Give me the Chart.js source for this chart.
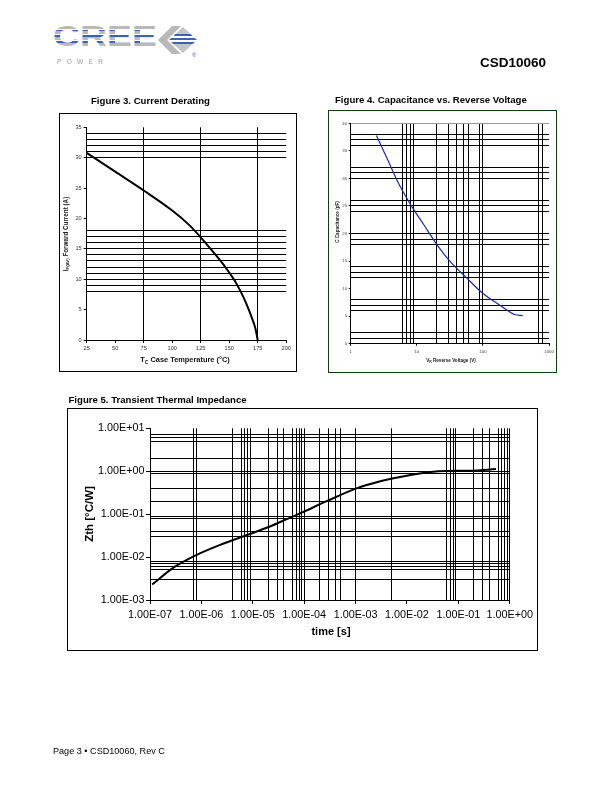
<!DOCTYPE html>
<html>
<head>
<meta charset="UTF-8">
<title>CSD10060</title>
<script src="https://cdn.jsdelivr.net/npm/chart.js@4.4.0/dist/chart.umd.min.js"></script>
<style>
  body { margin:0; width:612px; height:792px; position:relative; background:#fff; overflow:hidden; }
  canvas { position:absolute; }
  #page { position:absolute; left:0; top:0; pointer-events:none; font-family:"Liberation Sans", Arial, sans-serif; }
</style>
</head>
<body>

<canvas id="fig3" width="238" height="259" style="left:59px;top:113px"></canvas>
<canvas id="fig4" width="229" height="263" style="left:328px;top:110px"></canvas>
<canvas id="fig5" width="471" height="243" style="left:67px;top:408px"></canvas>

<svg id="page" width="612" height="792" xmlns="http://www.w3.org/2000/svg">
  <defs>
    <linearGradient id="creeStripe" gradientUnits="userSpaceOnUse" x1="0" y1="25" x2="0" y2="46">
      <stop offset="0" stop-color="#b8b8b8"/><stop offset="0.18" stop-color="#b8b8b8"/>
      <stop offset="0.18" stop-color="#fff"/><stop offset="0.23" stop-color="#fff"/>
      <stop offset="0.23" stop-color="#3d62b3"/><stop offset="0.3" stop-color="#3d62b3"/>
      <stop offset="0.3" stop-color="#b8b8b8"/><stop offset="0.45" stop-color="#b8b8b8"/>
      <stop offset="0.45" stop-color="#fff"/><stop offset="0.5" stop-color="#fff"/>
      <stop offset="0.5" stop-color="#3d62b3"/><stop offset="0.57" stop-color="#3d62b3"/>
      <stop offset="0.57" stop-color="#b8b8b8"/><stop offset="0.72" stop-color="#b8b8b8"/>
      <stop offset="0.72" stop-color="#fff"/><stop offset="0.77" stop-color="#fff"/>
      <stop offset="0.77" stop-color="#3d62b3"/><stop offset="0.84" stop-color="#3d62b3"/>
      <stop offset="0.84" stop-color="#b8b8b8"/><stop offset="1" stop-color="#b8b8b8"/>
    </linearGradient>
    <linearGradient id="diaStripe" gradientUnits="userSpaceOnUse" x1="0" y1="28" x2="0" y2="52">
      <stop offset="0" stop-color="#c4c4c4"/><stop offset="0.25" stop-color="#c4c4c4"/>
      <stop offset="0.25" stop-color="#3d62b3"/><stop offset="0.33" stop-color="#3d62b3"/>
      <stop offset="0.33" stop-color="#fff"/><stop offset="0.4" stop-color="#fff"/>
      <stop offset="0.4" stop-color="#3d62b3"/><stop offset="0.5" stop-color="#3d62b3"/>
      <stop offset="0.5" stop-color="#fff"/><stop offset="0.57" stop-color="#fff"/>
      <stop offset="0.57" stop-color="#3d62b3"/><stop offset="0.67" stop-color="#3d62b3"/>
      <stop offset="0.67" stop-color="#c4c4c4"/><stop offset="1" stop-color="#c4c4c4"/>
    </linearGradient>
  </defs>

  <!-- logo -->
  <text x="53" y="46" font-size="29" font-weight="bold" textLength="104" lengthAdjust="spacingAndGlyphs" fill="url(#creeStripe)">CREE</text>
  <text x="57" y="64" font-size="6.5" fill="#9a9a9a" textLength="46" lengthAdjust="spacing">POWER</text>
  <polygon points="158,40 172,26 181,26 167,40 181,54 172,54" fill="#b8b8b8"/>
  <polygon points="169,40 183,27 197,40 183,53" fill="url(#diaStripe)"/>
  <text x="192" y="57" font-size="6" fill="#3d62b3">®</text>

  <text x="480" y="67" font-size="13.5" font-weight="bold">CSD10060</text>

  <!-- figure titles -->
  <text x="91" y="103.5" font-size="9.6" font-weight="bold">Figure 3. Current Derating</text>
  <text x="335" y="103" font-size="9.6" font-weight="bold">Figure 4. Capacitance vs. Reverse Voltage</text>
  <text x="68.5" y="403" font-size="9.6" font-weight="bold">Figure 5. Transient Thermal Impedance</text>

  <!-- frames -->
  <rect x="59.5" y="113.5" width="237" height="258" fill="none" stroke="#000" stroke-width="1"/>
  <rect x="328.5" y="110.5" width="228" height="262" fill="none" stroke="#0e3d0e" stroke-width="1"/>
  <rect x="67.5" y="408.5" width="470" height="242" fill="none" stroke="#000" stroke-width="1"/>

  <!-- axis titles fig 3 -->
  <text x="185" y="362" font-size="7.4" font-weight="bold" text-anchor="middle" fill="#111">T<tspan font-size="5" dy="1.5">C</tspan><tspan dy="-1.5"> Case Temperature (°C)</tspan></text>
  <text transform="translate(68,234) rotate(-90)" font-size="6.3" font-weight="bold" text-anchor="middle" fill="#222">I<tspan font-size="4.3" dy="1.3">F(AV)</tspan><tspan dy="-1.3"> Forward Current (A)</tspan></text>

  <!-- axis titles fig 4 -->
  <text x="451" y="361.5" font-size="4.6" font-weight="bold" text-anchor="middle" fill="#222">V<tspan font-size="3.4" dy="1">R</tspan><tspan dy="-1"> Reverse Voltage (V)</tspan></text>
  <text transform="translate(338.5,222) rotate(-90)" font-size="4.6" font-weight="bold" text-anchor="middle" fill="#222">C Capacitance (pF)</text>

  <!-- axis titles fig 5 -->
  <text x="331" y="634.5" font-size="11" font-weight="bold" text-anchor="middle">time [s]</text>
  <text transform="translate(92.5,514) rotate(-90)" font-size="11.5" font-weight="bold" text-anchor="middle">Zth [°C/W]</text>

  <text x="53" y="754" font-size="9.1">Page 3 • CSD10060, Rev C</text>
</svg>

<script>
// ---- Figure 3. Current Derating ----
var tempC    = [25, 50, 75, 100, 115, 125, 135, 145, 150, 155, 160, 165, 170, 173, 175];
var currentA = [30.8, 27.7, 24.6, 21.3, 18.9, 16.9, 14.7, 12.4, 11.1, 9.7, 8.0, 6.0, 3.6, 1.9, 0];
var fig3XTicks = [25, 50, 75, 100, 125, 150, 175, 200];
var fig3XText  = ['25', '50', '75', '100', '125', '150', '175', '200'];
var fig3YTicks = [0, 5, 10, 15, 20, 25, 30, 35];
var fig3YText  = ['0', '5', '10', '15', '20', '25', '30', '35'];
var fig3XGrid  = [75, 125, 175];
var fig3YGrid  = [8, 9, 10, 11, 12, 13, 14, 15, 16, 17, 18, 30, 31, 32, 33, 34];

// ---- Figure 4. Capacitance vs. Reverse Voltage ----
var reverseV = [2.45, 3.65, 5.45, 8.1, 12.9, 20.3, 32, 57, 100, 180, 300, 400];
var capPF    = [37.8, 33.3, 28.8, 25.2, 21.5, 17.9, 14.9, 11.9, 9.1, 7.0, 5.3, 5.1];
var fig4XTicks = [1, 10, 100, 1000];
var fig4XText  = ['1', '10', '100', '1000'];
var fig4YTicks = [0, 5, 10, 15, 20, 25, 30, 35, 40];
var fig4YText  = ['0', '5', '10', '15', '20', '25', '30', '35', '40'];
var fig4XGrid  = [6, 7, 8, 9, 20, 30, 40, 50, 60, 90, 100, 700, 800];
var fig4YGrid  = [1, 2, 6, 7, 8, 12, 13, 14, 18, 19, 20, 24, 25, 26, 30, 31, 32, 36, 37, 38, 40];

// ---- Figure 5. Transient Thermal Impedance ----
var timeS = [1.1e-7, 3e-7, 7.4e-7, 2.25e-6, 8.5e-6, 2.1e-5, 5e-5, 9.2e-5, 2.6e-4, 1.1e-3, 2.8e-3, 7.8e-3, 2.2e-2, 4e-2, 1.8e-1, 5.4e-1];
var zthCW = [0.0023, 0.0059, 0.0107, 0.019, 0.034, 0.051, 0.08, 0.11, 0.195, 0.41, 0.57, 0.745, 0.92, 1.0, 1.03, 1.12];
var fig5XTicks = [1e-7, 1e-6, 1e-5, 1e-4, 1e-3, 1e-2, 1e-1, 1];
var fig5XText  = ['1.00E-07', '1.00E-06', '1.00E-05', '1.00E-04', '1.00E-03', '1.00E-02', '1.00E-01', '1.00E+00'];
var fig5YTicks = [1e-3, 1e-2, 1e-1, 1, 10];
var fig5YText  = ['1.00E-03', '1.00E-02', '1.00E-01', '1.00E+00', '1.00E+01'];
var fig5XGrid  = [7e-7, 8e-7, 4e-6, 6e-6, 7e-6, 8e-6, 9e-6, 2e-5, 3e-5, 4e-5, 6e-5, 7e-5, 8e-5, 9e-5, 1e-4,
                  2e-4, 3e-4, 4e-4, 5e-4, 1e-3, 5e-3, 6e-2, 7e-2, 8e-2, 9e-2, 0.2, 0.3, 0.4, 0.6, 0.7, 0.8, 0.9, 1];
var fig5YGrid  = [7, 6, 5, 2, 1, 0.9, 0.4, 0.2, 0.09, 0.08, 0.04, 0.03, 0.008, 0.007, 0.006, 0.005, 0.003];

var CLEAR = 'rgba(0,0,0,0)';

// axis whose tick labels and grid lines sit on separate value lists
function axis(type, min, max, ticks, texts, grid, o) {
  var all = Array.from(new Set(ticks.concat(grid))).sort(function (a, b) { return a - b; });
  return {
    type: type, min: min, max: max,
    afterBuildTicks: function (ax) { ax.ticks = all.map(function (v) { return { value: v }; }); },
    afterFit: function (ax) { if (ax.isHorizontal()) ax.height = o.size; else ax.width = o.size; },
    ticks: {
      autoSkip: false, maxRotation: 0, minRotation: 0, padding: o.pad, color: o.color,
      font: { family: 'Liberation Sans', size: o.font },
      callback: function (v) { var i = ticks.indexOf(v); return i < 0 ? '' : texts[i]; }
    },
    grid: {
      lineWidth: 1, tickLength: o.tick,
      color: function (c) { return grid.indexOf(c.tick.value) < 0 ? CLEAR : (o.gridColor ? o.gridColor(c.tick.value) : '#000'); },
      tickColor: function (c) { return ticks.indexOf(c.tick.value) < 0 ? CLEAR : '#000'; }
    },
    border: { color: '#000', width: 1 }
  };
}

function curve(id, xs, ys, color, width, xAx, yAx, pad) {
  return new Chart(document.getElementById(id), {
    type: 'line',
    data: { datasets: [{
      data: xs.map(function (x, i) { return { x: x, y: ys[i] }; }),
      borderColor: color, borderWidth: width, pointRadius: 0, fill: false,
      cubicInterpolationMode: 'monotone'
    }] },
    options: {
      responsive: false, animation: false, devicePixelRatio: 1,
      layout: { padding: pad },
      plugins: { legend: { display: false }, tooltip: { enabled: false } },
      scales: { x: xAx, y: yAx }
    }
  });
}

curve('fig3', tempC, currentA, '#000', 2,
  axis('linear', 25, 200, fig3XTicks, fig3XText, fig3XGrid, { size: 32, pad: 2.5, tick: 3, font: 5.6, color: '#333' }),
  axis('linear', 0, 35, fig3YTicks, fig3YText, fig3YGrid, { size: 27.7, pad: 2, tick: 3, font: 5.6, color: '#333' }),
  { left: 0, top: 14.3, right: 10.8, bottom: 0 });

curve('fig4', reverseV, capPF, '#1c2aa8', 1.2,
  axis('logarithmic', 1, 1000, fig4XTicks, fig4XText, fig4XGrid, { size: 29.3, pad: 3, tick: 2, font: 4.4, color: '#444' }),
  axis('linear', 0, 40, fig4YTicks, fig4YText, fig4YGrid, { size: 22.7, pad: 1.5, tick: 2, font: 4.4, color: '#444',
    gridColor: function (v) { return v === 40 ? '#999' : '#000'; } }),
  { left: 0, top: 13.3, right: 5.3, bottom: 0 });

curve('fig5', timeS, zthCW, '#000', 2,
  axis('logarithmic', 1e-7, 1, fig5XTicks, fig5XText, fig5XGrid, { size: 51, pad: 5, tick: 4, font: 10.8, color: '#000' }),
  axis('logarithmic', 1e-3, 10, fig5YTicks, fig5YText, fig5YGrid, { size: 83, pad: 1.5, tick: 4, font: 10.8, color: '#000' }),
  { left: 0, top: 20.3, right: 25.7, bottom: 0 });
</script>
</body>
</html>
